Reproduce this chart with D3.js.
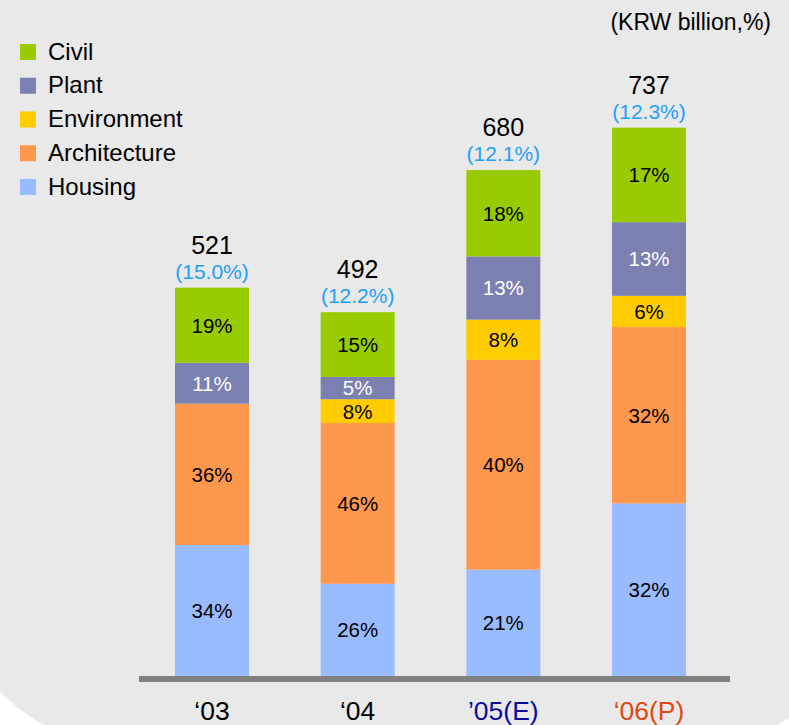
<!DOCTYPE html>
<html>
<head>
<meta charset="utf-8">
<script src="https://cdn.jsdelivr.net/npm/d3@7"></script>
<style>
  html, body { margin: 0; padding: 0; background: #ffffff; }
  svg { display: block; font-family: "Liberation Sans", Arial, Helvetica, sans-serif; }
</style>
</head>
<body>
<svg id="chart" width="789" height="725"></svg>
<script>
// ---- data ----
const years = ["'03", "'04", "'05", "'06"];
const yearLabels = ["\u201803", "\u201804", "\u201905(E)", "\u201806(P)"];
const series = ["Housing", "Architecture", "Environment", "Plant", "Civil"];
const legendOrder = ["Civil", "Plant", "Environment", "Architecture", "Housing"];
// segment amounts (KRW billion)
const housing      = [176, 124, 143, 232];
const architecture = [190, 216, 282, 237];
const environment  = [0,   32,  54,  42];
const plant        = [55,  30,  85,  99];
const civil        = [101, 87,  116, 127];
// labels
const totals       = [521, 492, 680, 737];
const margins      = ["(15.0%)", "(12.2%)", "(12.1%)", "(12.3%)"];
const housingPct   = ["34%", "26%", "21%", "32%"];
const archPct      = ["36%", "46%", "40%", "32%"];
const envPct       = ["", "8%", "8%", "6%"];
const plantPct     = ["11%", "5%", "13%", "13%"];
const civilPct     = ["19%", "15%", "18%", "17%"];

// ---- styles ----
const colors = {
  Civil: "#99cc00", Plant: "#7c80b0", Environment: "#ffcc00",
  Architecture: "#ff974d", Housing: "#99bbff"
};
const labelColors = {
  Civil: "#000", Plant: "#fff", Environment: "#000",
  Architecture: "#000", Housing: "#000"
};
const yearColors = ["#000000", "#000000", "#0a0a9c", "#dc4a13"];

const valuesBySeries = {
  Housing: housing, Architecture: architecture, Environment: environment,
  Plant: plant, Civil: civil
};
const pctBySeries = {
  Housing: housingPct, Architecture: archPct, Environment: envPct,
  Plant: plantPct, Civil: civilPct
};

const table = years.map((yr, i) => {
  const row = { year: yr };
  series.forEach(s => row[s] = valuesBySeries[s][i]);
  return row;
});

const svg = d3.select("#chart");

// background panel with rounded bottom corners
svg.append("rect")
  .attr("x", -44).attr("y", -400)
  .attr("width", 909).attr("height", 1144)
  .attr("rx", 165).attr("ry", 165)
  .attr("fill", "#e9e9e9");

const baseY = 676;
const y = d3.scaleLinear().domain([0, 800]).range([baseY, baseY - 800 * 0.744]);
const x = d3.scalePoint().domain(years).range([212, 649]);
const barW = 74;

const stacked = d3.stack().keys(series)(table);

const g = svg.append("g");
stacked.forEach(layer => {
  const key = layer.key;
  layer.forEach((d, i) => {
    if (d[1] - d[0] <= 0) return;
    g.append("rect")
      .attr("x", x(years[i]) - barW / 2)
      .attr("y", y(d[1]))
      .attr("width", barW)
      .attr("height", y(d[0]) - y(d[1]))
      .attr("fill", colors[key]);
    const lbl = pctBySeries[key][i];
    if (lbl) {
      g.append("text")
        .attr("x", x(years[i]))
        .attr("y", (y(d[0]) + y(d[1])) / 2)
        .attr("dy", "0.36em")
        .attr("text-anchor", "middle")
        .attr("font-size", 20.5)
        .attr("fill", labelColors[key])
        .text(lbl);
    }
  });
});

// totals and margins above bars
const topLayer = stacked[stacked.length - 1];
years.forEach((yr, i) => {
  const ty = y(topLayer[i][1]);
  svg.append("text")
    .attr("x", x(yr)).attr("y", ty - 34)
    .attr("text-anchor", "middle")
    .attr("font-size", 25)
    .attr("fill", "#000")
    .text(totals[i]);
  svg.append("text")
    .attr("x", x(yr)).attr("y", ty - 9)
    .attr("text-anchor", "middle")
    .attr("font-size", 21)
    .attr("fill", "#22a0f8")
    .text(margins[i]);
});

// axis baseline
svg.append("rect")
  .attr("x", 139).attr("y", baseY)
  .attr("width", 591).attr("height", 6)
  .attr("fill", "#808080");

// x labels
years.forEach((yr, i) => {
  svg.append("text")
    .attr("x", x(yr)).attr("y", 720)
    .attr("text-anchor", "middle")
    .attr("font-size", 26.5)
    .attr("fill", yearColors[i])
    .text(yearLabels[i]);
});

// unit label
svg.append("text")
  .attr("x", 771).attr("y", 30)
  .attr("text-anchor", "end")
  .attr("font-size", 23)
  .attr("fill", "#000")
  .text("(KRW billion,%)");

// legend
const legend = svg.append("g");
legendOrder.forEach((s, i) => {
  const ly = 44 + i * 33.75;
  legend.append("rect")
    .attr("x", 20).attr("y", ly)
    .attr("width", 16).attr("height", 16)
    .attr("fill", colors[s]);
  legend.append("text")
    .attr("x", 48).attr("y", ly + 15.5)
    .attr("font-size", 24)
    .attr("fill", "#000")
    .text(s);
});
</script>
</body>
</html>
